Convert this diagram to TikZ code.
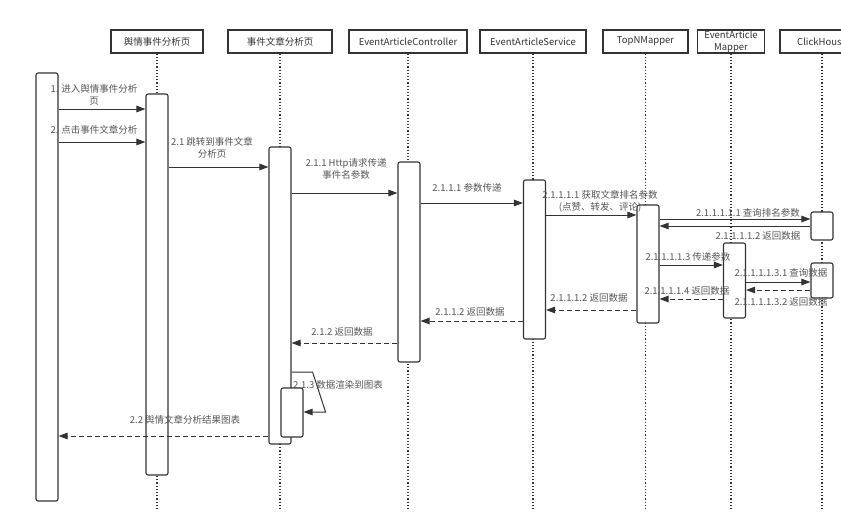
\documentclass[tikz,border=0pt]{standalone}
\usepackage{fontspec}
\setmainfont{Noto Sans CJK SC}
\usetikzlibrary{arrows.meta,positioning}
\definecolor{linec}{HTML}{333333}
\definecolor{txtc}{HTML}{555555}

\begin{document}
\begin{tikzpicture}[x=1pt,y=-1pt,
    font=\fontsize{9.5}{12}\selectfont,
    head/.style={draw=linec, line width=1.3pt, minimum height=23pt, inner sep=1pt, text=linec},
    act/.style={draw=linec, line width=1.1pt, fill=white, rounded corners=2pt, minimum width=22pt, inner sep=0pt},
    life/.style={linec, line width=1.2pt, dash pattern=on 1.2pt off 2pt},
    msg/.style={draw=linec, line width=1pt, -{Triangle[length=9pt,width=6.5pt]}},
    ret/.style={msg, dash pattern=on 5pt off 3pt},
    lbl/.style={text=txtc, align=center, inner sep=0pt}]
    \useasboundingbox (0,0) rectangle (841,528);
    \clip (0,0) rectangle (841,528);

    % participants
    \node[head, minimum width=92pt] (hYq) at (157,41.5) {舆情事件分析页};
    \node[head, minimum width=104pt] (hDoc) at (280,41.5) {事件文章分析页};
    \node[head, minimum width=118pt] (hCtl) at (408,41.5) {EventArticleController};
    \node[head, minimum width=106pt] (hSvc) at (533,41.5) {EventArticleService};
    \node[head, minimum width=85pt] (hTop) at (645.5,41.5) {TopNMapper};
    \node[head, minimum width=67pt, inner sep=0pt, align=center] (hMap) at (731,41.5) {EventArticle\\Mapper};
    \node[head, minimum width=84pt] (hCk) at (822,41.5) {ClickHouse};

    % lifelines
    \foreach \h in {hYq,hDoc,hCtl,hSvc,hTop,hMap,hCk}
        \draw[life] (\h.south) -- (\h.south |- 0,510);

    % activations
    \node[act, minimum height=428pt] (aUser) at (47,287) {};
    \node[act, minimum height=381pt] (aYq) at (157,284.5) {};
    \node[act, minimum height=297pt] (aDoc) at (280,295.5) {};
    \node[act, minimum height=49pt] (aDocSelf) at (292,412.5) {};
    \node[act, minimum height=200pt] (aCtl) at (409,262) {};
    \node[act, minimum height=159pt] (aSvc) at (534.5,259.5) {};
    \node[act, minimum height=118pt] (aTop) at (648,264) {};
    \node[act, minimum height=75pt] (aMap) at (734.5,280.5) {};
    \node[act, minimum height=28pt] (aCk1) at (822,226) {};
    \node[act, minimum height=35pt] (aCk2) at (822,280.5) {};

    % calls
    \draw[msg] (aUser.east |- 0,109) -- (aYq.west |- 0,109);
    \node[lbl] (l1) at (94,95) {1. 进入舆情事件分析\\页};
    \draw[msg] (aUser.east |- 0,142) -- (aYq.west |- 0,142);
    \node[lbl] (l2) at (94,130) {2. 点击事件文章分析};
    \draw[msg] (aYq.east |- 0,167) -- (aDoc.west |- 0,167);
    \node[lbl] (l21) at (212,148) {2.1 跳转到事件文章\\分析页};
    \draw[msg] (aDoc.east |- 0,193) -- (aCtl.west |- 0,193);
    \node[lbl] (l211) at (346,168.5) {2.1.1 Http请求传递\\事件名参数};
    \draw[msg] (aCtl.east |- 0,203) -- (aSvc.west |- 0,203);
    \node[lbl] (l2111) at (467,188) {2.1.1.1 参数传递};
    \draw[msg] (aSvc.east |- 0,215) -- (aTop.west |- 0,215);
    \node[lbl] (l21111) at (600,201) {2.1.1.1.1 获取文章排名参数\\(点赞、转发、评论)};
    \draw[msg] (aTop.east |- 0,219) -- (aCk1.west |- 0,219);
    \node[lbl] (l211111) at (748,213) {2.1.1.1.1.1 查询排名参数};
    \draw[msg] (aCk1.west |- 0,226) -- (aTop.east |- 0,226);
    \node[lbl] (l211112) at (758,236) {2.1.1.1.1.2 返回数据};
    \draw[msg] (aTop.east |- 0,265) -- (aMap.west |- 0,265);
    \node[lbl] (l211113) at (688,257) {2.1.1.1.1.3 传递参数};
    \draw[msg] (aMap.east |- 0,282) -- (aCk2.west |- 0,282);
    \node[lbl] (l2111131) at (781,273) {2.1.1.1.1.3.1 查询数据};

    % returns
    \draw[ret] (aCk2.west |- 0,290) -- (aMap.east |- 0,290);
    \node[lbl] (l2111132) at (781,302) {2.1.1.1.1.3.2 返回数据};
    \draw[ret] (aMap.west |- 0,299) -- (aTop.east |- 0,299);
    \node[lbl] (l211114) at (687,291) {2.1.1.1.1.4 返回数据};
    \draw[ret] (aTop.west |- 0,310) -- (aSvc.east |- 0,310);
    \node[lbl] (l21112) at (589,298) {2.1.1.1.2 返回数据};
    \draw[ret] (aSvc.west |- 0,321) -- (aCtl.east |- 0,321);
    \node[lbl] (l2112) at (470,312) {2.1.1.2 返回数据};
    \draw[ret] (aCtl.west |- 0,343) -- (aDoc.east |- 0,343);
    \node[lbl] (l212) at (342,332) {2.1.2 返回数据};

    % self call
    \draw[msg] (aDoc.east |- 0,372) -- ++(21,0) -- ++(13,40) -- (aDocSelf.east |- 0,412);
    \node[lbl, anchor=west] (l213) at (293,385) {2.1.3 数据渲染到图表};

    \draw[ret] (aDoc.west |- 0,436) -- (aUser.east |- 0,436);
    \node[lbl] (l22) at (185,420) {2.2 舆情文章分析结果图表};
\end{tikzpicture}
\end{document}
